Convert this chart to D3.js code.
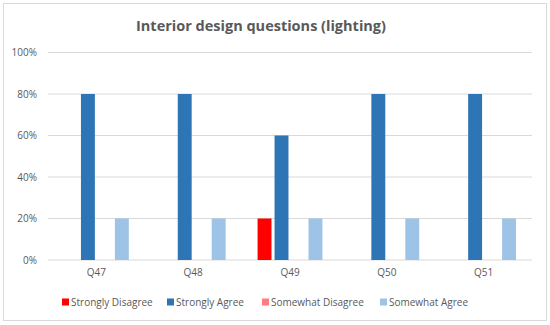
<!DOCTYPE html>
<html>
<head>
<meta charset="utf-8">
<script src="https://cdn.jsdelivr.net/npm/d3@7"></script>
<style>
  body { margin: 0; background: #fff; }
  text { font-family: "Open Sans", sans-serif; fill: #595959; }
</style>
</head>
<body>
<div id="chart"></div>
<script>
// categories and series
const questions = ["Q47", "Q48", "Q49", "Q50", "Q51"];
const seriesNames = ["Strongly Disagree", "Strongly Agree", "Somewhat Disagree", "Somewhat Agree"];
const seriesColors = ["#FF0000", "#2E75B6", "#FF7C80", "#9DC3E6"];

// values (share of answers) per series, in order of questions
const stronglyDisagree = [0, 0, 0.2, 0, 0];
const stronglyAgree = [0.8, 0.8, 0.6, 0.8, 0.8];
const somewhatDisagree = [0, 0, 0, 0, 0];
const somewhatAgree = [0.2, 0.2, 0.2, 0.2, 0.2];
const yTicks = [0, 0.2, 0.4, 0.6, 0.8, 1];

const allValues = [stronglyDisagree, stronglyAgree, somewhatDisagree, somewhatAgree];

const W = 550, H = 325;
const margin = {top: 52.5, right: 18, bottom: 65, left: 48};
const width = W - margin.left - margin.right,
      height = H - margin.top - margin.bottom;

const svg = d3.select("#chart")
  .append("svg")
    .attr("width", W)
    .attr("height", H);

// outer border
svg.append("rect")
  .attr("x", 3.5).attr("y", 3.5)
  .attr("width", 543).attr("height", 317)
  .attr("fill", "#fff")
  .attr("stroke", "#D9D9D9");

// title
svg.append("text")
  .attr("x", 261).attr("y", 31)
  .attr("text-anchor", "middle")
  .style("font-size", "14.5px")
  .style("font-weight", "bold")
  .text("Interior design questions (lighting)");

const g = svg.append("g")
  .attr("transform", `translate(${margin.left}, ${margin.top})`);

// scales
const x0 = d3.scaleBand()
  .domain(questions)
  .range([0, width])
  .paddingInner(0.33)
  .paddingOuter(0.165);

const x1 = d3.scaleBand()
  .domain(seriesNames)
  .range([0, x0.bandwidth()])
  .paddingInner(0.18);

const y = d3.scaleLinear()
  .domain([0, 1])
  .range([height, 0]);

// gridlines
g.append("g")
  .selectAll("line")
  .data(yTicks)
  .join("line")
    .attr("x1", 0).attr("x2", width)
    .attr("y1", d => y(d)).attr("y2", d => y(d))
    .attr("stroke", "#D9D9D9")
    .attr("stroke-width", 1);

// y axis labels
const yAxis = g.append("g")
  .call(d3.axisLeft(y).tickValues(yTicks).tickFormat(d3.format(".0%")).tickSize(0).tickPadding(11));
yAxis.select(".domain").remove();
yAxis.selectAll("text").style("font-size", "10px").attr("fill", "#595959");

// x axis labels
const xAxis = g.append("g")
  .attr("transform", `translate(0, ${height})`)
  .call(d3.axisBottom(x0).tickSize(0).tickPadding(9));
xAxis.select(".domain").remove();
xAxis.selectAll("text").style("font-size", "10px").attr("fill", "#595959");

// bars
const groups = g.append("g")
  .selectAll("g")
  .data(questions)
  .join("g")
    .attr("transform", d => `translate(${x0(d)}, 0)`);

groups.selectAll("rect")
  .data((q, qi) => seriesNames.map((s, si) => ({series: s, value: allValues[si][qi], color: seriesColors[si]})))
  .join("rect")
    .attr("x", d => x1(d.series))
    .attr("y", d => y(d.value))
    .attr("width", x1.bandwidth())
    .attr("height", d => height - y(d.value))
    .attr("fill", d => d.color);

// legend
const legendX = [62, 167, 262, 380];
const legend = svg.append("g")
  .selectAll("g")
  .data(seriesNames)
  .join("g")
    .attr("transform", (d, i) => `translate(${legendX[i]}, 302)`);

legend.append("rect")
  .attr("x", 0).attr("y", -3.5)
  .attr("width", 7).attr("height", 7)
  .attr("fill", (d, i) => seriesColors[i]);

legend.append("text")
  .attr("x", 9).attr("y", 3.5)
  .style("font-size", "10px")
  .text(d => d);
</script>
</body>
</html>
